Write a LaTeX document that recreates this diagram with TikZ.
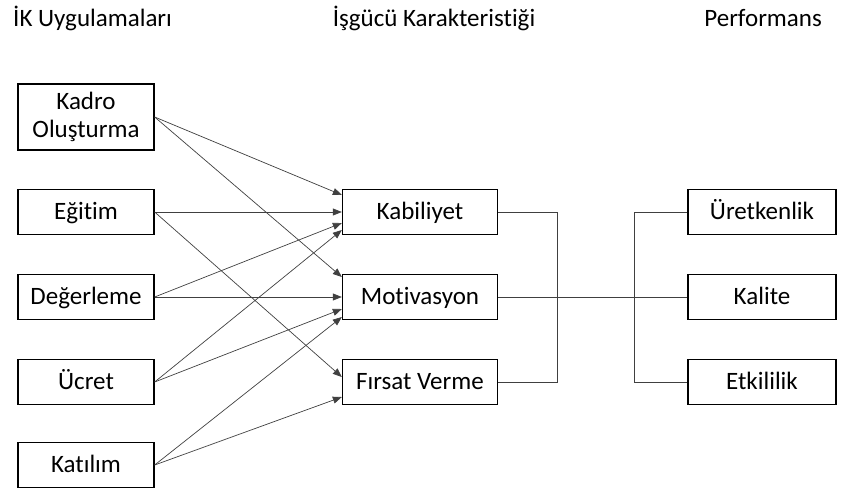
\documentclass[tikz,border=0pt]{standalone}
\usepackage{fontspec}
\setmainfont{Carlito}[RawFeature={-liga;-dlig}]
\usetikzlibrary{arrows.meta}

\begin{document}
\begin{tikzpicture}[x=1pt,y=-1pt,
  box/.style={draw=black, line width=1.3pt, minimum height=45pt, inner sep=0pt, font=\fontsize{25}{28}\selectfont},
  oneline/.style={text height=15pt, text depth=1pt},
  ik/.style={box, oneline, minimum width=136pt},
  mid/.style={box, oneline, minimum width=155pt},
  perf/.style={box, oneline, minimum width=148pt},
  link/.style={draw=black!75, line width=0.7pt},
  arr/.style={link, -{Triangle[length=9pt,width=7pt]}},
  title/.style={font=\fontsize{25}{28}\selectfont, inner sep=0pt}]
\useasboundingbox (0,0) rectangle (842,493);
%% column titles
\node[title, anchor=base west] (t1) at (13,26) {İK Uygulamaları};
\node[title, anchor=base] (t2) at (434,26) {İşgücü Karakteristiği};
\node[title, anchor=base east] (t3) at (822,26) {Performans};
%% HR practices
\node[box, minimum width=136pt, minimum height=66pt, align=center] (kadro) at (86,117) {Kadro\\Oluşturma};
\node[ik] (egitim) at (86,212) {Eğitim};
\node[ik] (deger) at (86,297) {Değerleme};
\node[ik] (ucret) at (86,382) {Ücret};
\node[ik] (katilim) at (86,465) {Katılım};
%% workforce characteristics
\node[mid] (kab) at (420,212) {Kabiliyet};
\node[mid] (mot) at (420,297) {Motivasyon};
\node[mid] (firsat) at (420,382) {Fırsat Verme};
%% performance
\node[perf] (uret) at (762,212) {Üretkenlik};
\node[perf] (kalite) at (762,297) {Kalite};
\node[perf] (etki) at (762,382) {Etkililik};
%% arrows into the middle column
\draw[arr] (kadro.east) -- ([yshift=17pt]kab.west);
\draw[arr] (kadro.east) -- ([yshift=20pt]mot.west);
\draw[arr] (egitim.east) -- (kab.west);
\draw[arr] (egitim.east) -- ([yshift=5pt]firsat.west);
\draw[arr] (deger.east) -- ([yshift=-11pt]kab.west);
\draw[arr] (deger.east) -- (mot.west);
\draw[arr] (ucret.east) -- ([yshift=-18pt]kab.west);
\draw[arr] (ucret.east) -- ([yshift=-12pt]mot.west);
\draw[arr] (katilim.east) -- ([yshift=-20pt]mot.west);
\draw[arr] (katilim.east) -- ([yshift=-15pt]firsat.west);
%% brackets to performance
\coordinate (lj) at (557,297);
\coordinate (rj) at (634,297);
\draw[link] (kab.east) -| (lj) |- (firsat.east);
\draw[link] (mot.east) -- (kalite.west);
\draw[link] (uret.west) -| (rj) |- (etki.west);
\end{tikzpicture}
\end{document}
